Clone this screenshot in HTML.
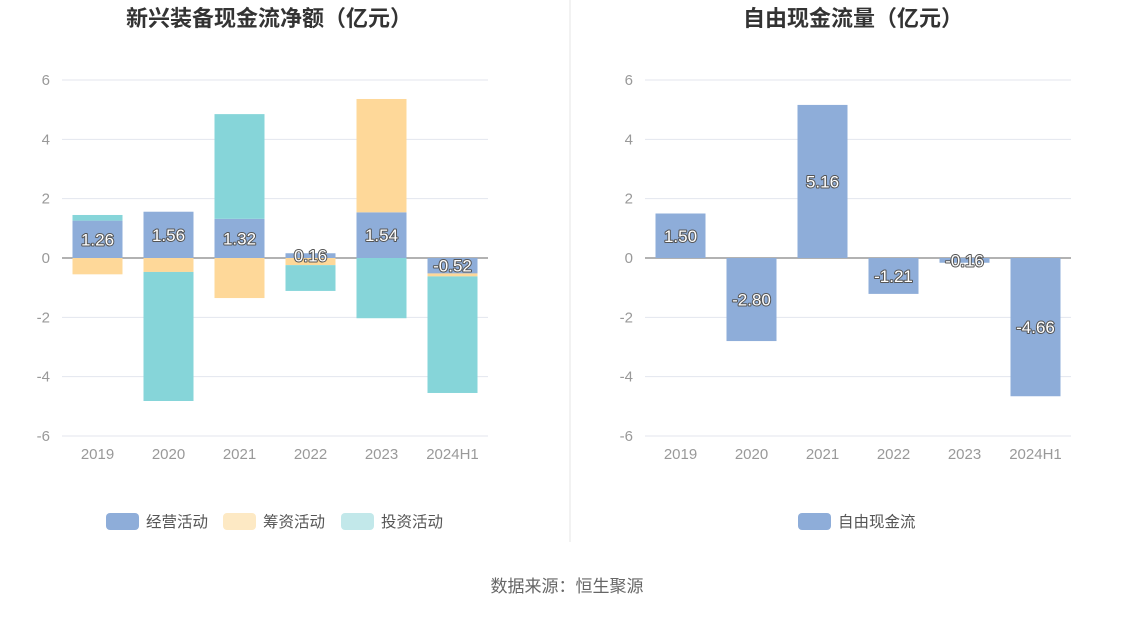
<!DOCTYPE html>
<html><head><meta charset="utf-8"><style>
body{margin:0;background:#fff;font-family:"Liberation Sans","Noto Sans CJK SC",sans-serif}
svg text{font-family:"Liberation Sans","Noto Sans CJK SC",sans-serif}
</style></head><body>
<svg id="c" width="1134" height="612" xmlns="http://www.w3.org/2000/svg">
<text x="269" y="26" text-anchor="middle" font-size="22" font-weight="bold" fill="#333">新兴装备现金流净额（亿元）</text>
<text x="853" y="26" text-anchor="middle" font-size="22" font-weight="bold" fill="#333">自由现金流量（亿元）</text>
<line x1="570" y1="0" x2="570" y2="542" stroke="#e6e6e6"/>
<text x="567" y="592" text-anchor="middle" font-size="17" fill="#666">数据来源：恒生聚源</text>
</svg>
<script>
const categories=["2019","2020","2021","2022","2023","2024H1"];
const operating=[1.26,1.56,1.32,0.16,1.54,-0.52];
const financing=[-0.55,-0.47,-1.35,-0.24,3.82,-0.10];
const investing=[0.19,-4.35,3.53,-0.87,-2.03,-3.93];
const freeCash=[1.50,-2.80,5.16,-1.21,-0.16,-4.66];
const yTicks=[6,4,2,0,-2,-4,-6];
const NS="http://www.w3.org/2000/svg";
const svg=document.getElementById('c');
function mk(t,a,p){const e=document.createElementNS(NS,t);for(const k in a)e.setAttribute(k,a[k]);(p||svg).appendChild(e);return e;}
const y=v=>258-v*(178/6);
function axes(x0,x1,prefix){
  yTicks.forEach(t=>{
    const l=mk('line',{x1:x0,x2:x1,y1:y(t),y2:y(t),stroke:t===0?'#666':'#e3e6ee'});
    
    
    const tx=mk('text',{x:x0-12,y:y(t)+5,'text-anchor':'end','font-size':15,fill:'#999'});
    tx.textContent=t;
    
    
  });
  const step=(x1-x0)/categories.length;
  categories.forEach((c,i)=>{
    const tx=mk('text',{x:x0+step*(i+0.5),y:459,'text-anchor':'middle','font-size':15,fill:'#999'});
    tx.textContent=c;
    
    
  });
  return step;
}
function bar(x,w,a,b,col,name){
  const r=mk('rect',{x:x,width:w,y:Math.min(y(a),y(b)),height:Math.abs(y(a)-y(b)),fill:col});
  
  
}
function label(x,v,name){
  const t=mk('text',{x:x,y:y(v/2)+6,'text-anchor':'middle','font-size':17,fill:'#fff',stroke:'#555','stroke-width':2,'paint-order':'stroke','stroke-linejoin':'round'});
  t.textContent=v.toFixed(2);
  
  
}
const L0=62,L1=488;
const sL=axes(L0,L1,'left');
categories.forEach((c,i)=>{
  const cx=L0+sL*(i+0.5),bx=cx-25;
  let pos=0,neg=0;
  [[operating[i],'#8eadd9','operating-bar'],[financing[i],'#fed899','financing-bar'],[investing[i],'#86d5d9','investing-bar']].forEach(([v,col,n])=>{
    if(v>=0){bar(bx,50,pos,pos+v,col,n+'-'+c);pos+=v;}else{bar(bx,50,neg,neg+v,col,n+'-'+c);neg+=v;}
  });
  label(cx,operating[i],'operating-value-'+c);
});
const R0=645,R1=1071;
const sR=axes(R0,R1,'right');
categories.forEach((c,i)=>{
  const cx=R0+sR*(i+0.5);
  bar(cx-25,50,0,freeCash[i],'#8eadd9','free-cash-bar-'+c);
  label(cx,freeCash[i],'free-cash-value-'+c);
});
function leg(x,col,txt,name){
  const g=mk('g',{});
  
  
  mk('rect',{x:x,y:513,width:33,height:17,rx:4,fill:col},g);
  const t=mk('text',{x:x+40,y:527,'font-size':15.5,fill:'#555'},g);t.textContent=txt;
}
leg(106,'#8eadd9','经营活动','legend-operating');
leg(223,'#fde9c4','筹资活动','legend-financing');
leg(341,'#c2e8ea','投资活动','legend-investing');
leg(798,'#8eadd9','自由现金流','legend-free-cash');
</script>
</body></html>
